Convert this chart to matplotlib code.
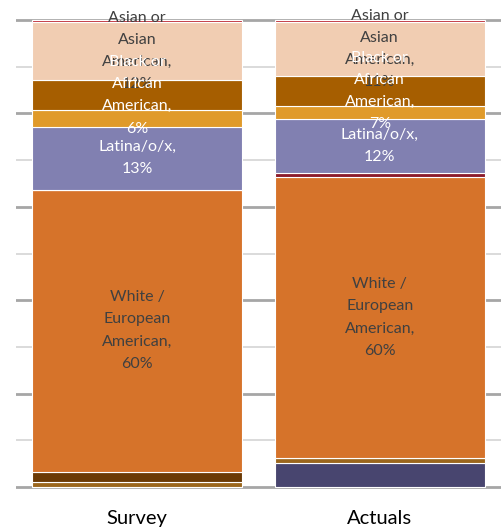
import numpy as np
import matplotlib.pyplot as plt

plt.rcParams['font.family'] = ['Lato', 'DejaVu Sans']

categories = ['Survey', 'Actuals']

# stacked segments, bottom to top (percent of total)
groups = ['Other', 'Multiracial', 'Native', 'White', 'Pacific', 'Latina', 'MENA', 'Black', 'Asian', 'Unknown']
values = {
    'Other':       [0.0, 5.2],
    'Multiracial': [1.1, 1.1],
    'Native':      [2.2, 0.0],
    'White':       [60.4, 60.0],
    'Pacific':     [0.0, 0.9],
    'Latina':      [13.4, 11.6],
    'MENA':        [3.6, 2.7],
    'Black':       [6.4, 6.6],
    'Asian':       [12.5, 11.4],
    'Unknown':     [0.4, 0.5],
}
colors = {
    'Other': '#48456f',
    'Multiracial': '#9b661c',
    'Native': '#6b3a05',
    'White': '#d6732a',
    'Pacific': '#8b1a2a',
    'Latina': '#8180b1',
    'MENA': '#e09a2a',
    'Black': '#a65e00',
    'Asian': '#f1cdb2',
    'Unknown': '#c0303a',
}

# data labels shown on the chart
label_text = {
    'White': ['White /\nEuropean\nAmerican,\n60%', 'White /\nEuropean\nAmerican,\n60%'],
    'Latina': ['Latina/o/x,\n13%', 'Latina/o/x,\n12%'],
    'Asian': ['Asian or\nAsian\nAmerican,\n12%', 'Asian or\nAsian\nAmerican,\n11%'],
    'Black': ['Black or\nAfrican\nAmerican,\n6%', 'Black or\nAfrican\nAmerican,\n7%'],
}
label_color = {'White': '#404040', 'Latina': 'white', 'Asian': '#404040', 'Black': 'white'}

fig = plt.figure(figsize=(5.01, 5.31), dpi=100)
W, H = 501, 531
pad = 0.5 * 467 / 100
ax = fig.add_axes([16 / W, (H - 487 - pad) / H, 1 - 16 / W, (467 + 2 * pad) / H])

x = np.arange(len(categories))
bottom = np.zeros(len(categories))
centers = {}
for g in groups:
    v = np.array(values[g])
    ax.bar(x, v, width=0.866, bottom=bottom, color=colors[g],
           edgecolor='white', linewidth=0.8, zorder=3)
    centers[g] = bottom + v / 2
    bottom = bottom + v

for g in ['White', 'Latina', 'Asian', 'Black']:
    for i in range(len(categories)):
        ax.text(x[i], centers[g][i], label_text[g][i], ha='center', va='center',
                fontsize=11.5, color=label_color[g], linespacing=1.75, zorder=5)

ax.set_xlim(-0.5, 1.5)
ax.set_ylim(-0.5, 100.5)
ax.set_yticks(np.arange(0, 101, 20))
ax.set_yticks(np.arange(10, 100, 20), minor=True)
ax.grid(which='major', axis='y', color='#a6a6a6', linewidth=2, zorder=0)
ax.grid(which='minor', axis='y', color='#d4d4d4', linewidth=1.2, zorder=0)
ax.tick_params(axis='y', which='both', length=0, labelleft=False)
ax.set_xticks(x)
ax.set_xticklabels(categories, fontsize=14.5)
ax.tick_params(axis='x', length=0, pad=15, colors='#000000')
for s in ax.spines.values():
    s.set_visible(False)

fig.savefig('out.png', dpi=100)
